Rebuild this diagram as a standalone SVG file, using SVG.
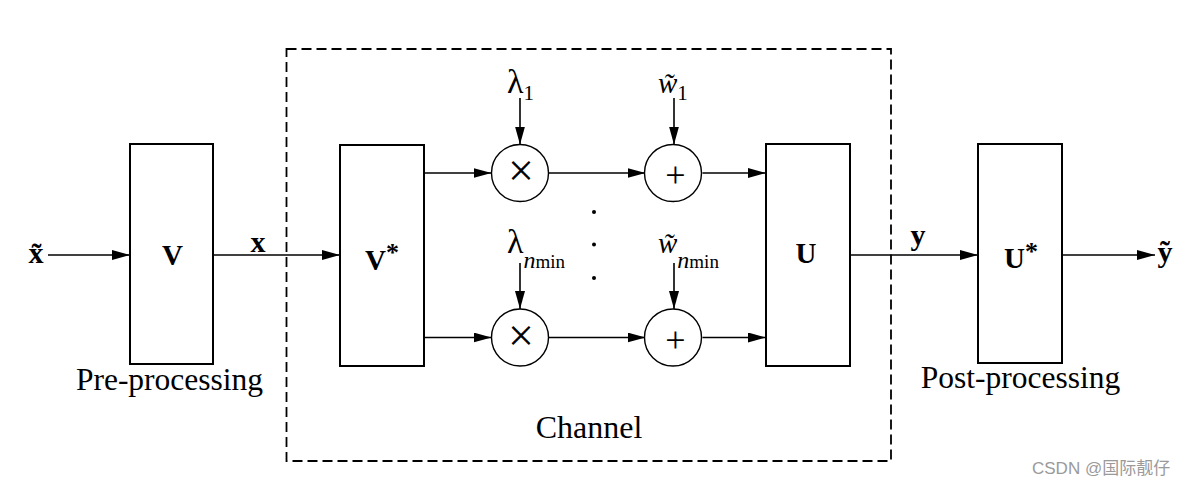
<svg xmlns="http://www.w3.org/2000/svg" width="1198" height="486" viewBox="0 0 1198 486">
<defs>
<marker id="ah" markerUnits="userSpaceOnUse" markerWidth="18" markerHeight="10" refX="18" refY="5" orient="auto">
<path d="M0,0 L18,5 L0,10 z" fill="#000"/>
</marker>
<style>
.box{fill:#fff;stroke:#000;stroke-width:2}
.circ{fill:#fff;stroke:#000;stroke-width:1.4}
.conn line{stroke:#000;stroke-width:1.6;marker-end:url(#ah)}
.t{font-family:"Liberation Serif","Times New Roman",serif;fill:#000}
.b{font-weight:bold}
.i{font-style:italic}
</style>
</defs>
<rect width="1198" height="486" fill="#fff"/>
<rect id="channel" x="286.5" y="49" width="604.5" height="412" fill="none" stroke="#000" stroke-width="1.8" stroke-dasharray="10,5"/>
<g class="conn">
<line x1="48" y1="255" x2="130" y2="255"/>
<line x1="213" y1="255" x2="340" y2="255"/>
<line x1="424" y1="173" x2="491.5" y2="173"/>
<line x1="548.5" y1="173" x2="645.5" y2="173"/>
<line x1="702.5" y1="173" x2="766" y2="173"/>
<line x1="424" y1="337.5" x2="491.5" y2="337.5"/>
<line x1="548.5" y1="337.5" x2="645.5" y2="337.5"/>
<line x1="702.5" y1="337.5" x2="766" y2="337.5"/>
<line x1="850" y1="255" x2="978" y2="255"/>
<line x1="1062" y1="255" x2="1155" y2="255"/>
<line x1="520" y1="98" x2="520" y2="144.5"/>
<line x1="674" y1="98" x2="674" y2="144.5"/>
<line x1="520" y1="263" x2="520" y2="309"/>
<line x1="674" y1="263" x2="674" y2="309"/>
</g>
<g id="V"><rect class="box" x="130" y="144" width="83" height="220"/><text class="t b" x="172.5" y="265" font-size="29" text-anchor="middle">V</text></g>
<g id="Vstar"><rect class="box" x="340" y="145" width="84" height="221"/><text class="t b" x="365" y="270" font-size="29">V<tspan font-size="26" dy="-9">*</tspan></text></g>
<g id="U"><rect class="box" x="766" y="144" width="84" height="222"/><text class="t b" x="806" y="263" font-size="29" text-anchor="middle">U</text></g>
<g id="Ustar"><rect class="box" x="978" y="144" width="84" height="219"/><text class="t b" x="1004" y="268" font-size="29">U<tspan font-size="26" dy="-8">*</tspan></text></g>
<g id="mul1"><circle class="circ" cx="520" cy="173" r="28.5"/><text class="t" x="521" y="186" font-size="46" text-anchor="middle">×</text></g>
<g id="add1"><circle class="circ" cx="673" cy="173" r="28.5"/><text class="t" x="675.5" y="187" font-size="36" text-anchor="middle">+</text></g>
<g id="mul2"><circle class="circ" cx="520" cy="337.5" r="28.5"/><text class="t" x="521" y="350.5" font-size="46" text-anchor="middle">×</text></g>
<g id="add2"><circle class="circ" cx="673" cy="337.5" r="28.5"/><text class="t" x="675.5" y="351.5" font-size="36" text-anchor="middle">+</text></g>
<g id="labels">
<text class="t b" x="36" y="263" font-size="30" text-anchor="middle">x&#x303;</text>
<text class="t b" x="258" y="252" font-size="30" text-anchor="middle">x</text>
<text class="t b" x="918" y="245" font-size="30" text-anchor="middle">y</text>
<text class="t b" x="1165" y="262" font-size="30" text-anchor="middle">y&#x303;</text>
<text class="t" x="507" y="93" font-size="34">λ<tspan font-size="21" dy="7">1</tspan></text>
<text class="t" x="658" y="93" font-size="29"><tspan class="i">w&#x303;</tspan><tspan font-size="21" dy="7">1</tspan></text>
<text class="t" x="507" y="253" font-size="34">λ<tspan class="i" font-size="24" dy="15">n</tspan><tspan font-size="19">min</tspan></text>
<text class="t" x="658" y="253" font-size="29"><tspan class="i">w&#x303;</tspan><tspan class="i" font-size="24" dy="15">n</tspan><tspan font-size="19">min</tspan></text>
<circle cx="594" cy="212" r="2"/>
<circle cx="594" cy="244.5" r="2"/>
<circle cx="594" cy="278" r="2"/>
<text class="t" x="169.5" y="390" font-size="31.5" text-anchor="middle">Pre-processing</text>
<text class="t" x="1020.5" y="388" font-size="31.5" text-anchor="middle">Post-processing</text>
<text class="t" x="589" y="438" font-size="32" text-anchor="middle">Channel</text>
<text x="1032" y="474" font-size="17" fill="#9a9a9a" font-family="'Liberation Sans','Noto Sans CJK SC',sans-serif">CSDN @国际靓仔</text>
</g>
</svg>
